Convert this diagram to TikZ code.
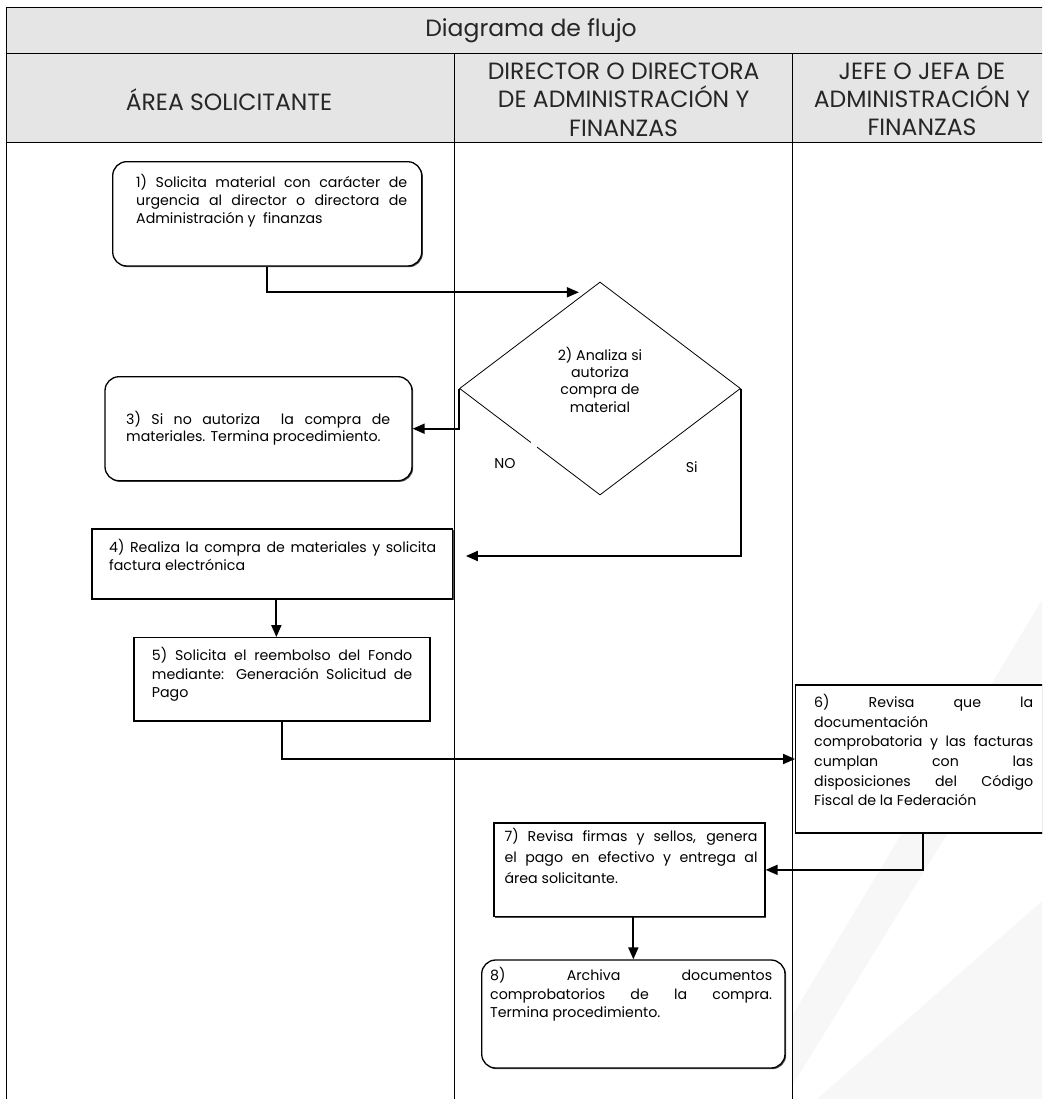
\documentclass[tikz,border=0pt]{standalone}
\usepackage{fontspec}
\setmainfont{Poppins}
\usetikzlibrary{shapes.geometric,shadows,calc,arrows.meta}

% a line stretched to the full measure, as in justified text
\newcommand\jl[1]{\makebox[\linewidth][s]{#1}\par}

\tikzset{
  rule/.style={line width=1.1pt},
  head/.style={inner sep=0pt, text=black!85, font=\fontsize{23.5}{28.3}\selectfont},
  stepbox/.style={draw, line width=1.3pt, fill=white, inner sep=0pt,
    drop shadow={shadow xshift=1.2pt, shadow yshift=-1.2pt, fill=black!70, opacity=1}},
  roundbox/.style={stepbox, rounded corners=14pt},
  decision/.style={draw, diamond, line width=0.8pt, inner sep=0pt},
  txt/.style={inner sep=0pt, anchor=base west},
  conn/.style={line width=1.8pt, -{Triangle[length=12pt,width=10pt]}},
  watermark/.style={fill=black!3},
}

\begin{document}
\begin{tikzpicture}[x=1pt, y=-1pt]
\useasboundingbox (0,0) rectangle (1042,1099);
\clip (0,0) rectangle (1042,1099);

% faint background stripes
\fill[watermark] (792,1016) -- (1042,600) -- (1042,680) -- (792,1086) -- cycle;
\fill[watermark] (817,1099) -- (1042,901) -- (1042,1099) -- cycle;

% swimlane table
\fill[black!10] (6.7,7.3) rectangle (1052,142.3);
\draw[rule] (6.7,1120) -- (6.7,7.3) -- (1052,7.3) -- (1052,1120);
\draw[rule] (6.7,53.3) -- (1052,53.3);
\draw[rule] (6.7,142.3) -- (1052,142.3);
\draw[rule] (454.7,53.3) -- (454.7,1120);
\draw[rule] (792.5,53.3) -- (792.5,1120);

\node[head] (title) at (531,30.3) {Diagrama de flujo};
\node[head, align=center] (h1) at (229,99.5) {ÁREA SOLICITANTE};
\node[head, align=center] (h2) at (623.6,99.5) {DIRECTOR O DIRECTORA\\DE ADMINISTRACIÓN Y\\FINANZAS};
\node[head, align=center] (h3) at (922,99.5) {JEFE O JEFA DE\\ADMINISTRACIÓN Y\\FINANZAS};

% process boxes
\node[roundbox, minimum width=309, minimum height=104.3] (b1) at (267.2,213.85) {};
\node[decision, minimum width=281, minimum height=213] (dm) at (600,388.5) {};
\node[roundbox, minimum width=307, minimum height=104] (b3) at (258.5,428.7) {};
\node[stepbox, minimum width=360.7, minimum height=70] (b4) at (272.35,564) {};
\node[stepbox, minimum width=296, minimum height=83.3] (b5) at (282,679.35) {};
\node[stepbox, minimum width=255.3, minimum height=148] (b6) at (923.35,759) {};
\node[stepbox, minimum width=271, minimum height=93.7] (b7) at (629.5,869.85) {};
\node[roundbox, minimum width=303.3, minimum height=108] (b8) at (633.35,1014) {};

% break in the decision outline
\fill[white] (530.5,441.5) rectangle (537,448.5);

% box texts
\node[txt, font=\fontsize{14.2}{18.3}\selectfont] (t1) at (136,187.3)
  {\parbox[t]{271pt}{\jl{1) Solicita material con carácter de}\jl{urgencia al director o directora de}Administración y~ finanzas}};
\node[inner sep=0pt, anchor=base, font=\fontsize{14.2}{17.4}\selectfont] (t2) at (600,360)
  {\parbox[t]{140pt}{\centering 2) Analiza si\\autoriza\\compra de\\material}};
\node[txt, font=\fontsize{14.2}{17.5}\selectfont] (t3) at (126,424)
  {\parbox[t]{264pt}{\jl{3) Si no autoriza~ la compra de}materiales. Termina procedimiento.}};
\node[txt, font=\fontsize{14.2}{18.4}\selectfont] (t4) at (109,552.3)
  {\parbox[t]{327pt}{\jl{4) Realiza la compra de materiales y solicita}factura electrónica}};
\node[txt, font=\fontsize{14.2}{18.3}\selectfont] (t5) at (151.7,660.7)
  {\parbox[t]{260.3pt}{\jl{5) Solicita el reembolso del Fondo}\jl{mediante: Generación Solicitud de}Pago}};
\node[txt, font=\fontsize{14.2}{19.7}\selectfont] (t6) at (814,707.3)
  {\parbox[t]{219pt}{\jl{6) Revisa que la}documentación\par\jl{comprobatoria y las facturas}\jl{cumplan con las}\jl{disposiciones del Código}Fiscal de la Federación}};
\node[txt, font=\fontsize{14.2}{21}\selectfont] (t7) at (504.3,841.3)
  {\parbox[t]{253pt}{\jl{7) Revisa firmas y sellos, genera}\jl{el pago en efectivo y entrega al}área solicitante.}};
\node[txt, font=\fontsize{14.2}{18.3}\selectfont] (t8) at (490,980.7)
  {\parbox[t]{282pt}{\jl{8) Archiva documentos}\jl{comprobatorios de la compra.}Termina procedimiento.}};

\node[inner sep=0pt, font=\fontsize{14.2}{16}\selectfont] (no) at (505,463.3) {NO};
\node[inner sep=0pt, font=\fontsize{14.2}{16}\selectfont] (si) at (691.7,466.7) {Si};

% connectors
\draw[conn, shorten >=7pt] (b1.south) |- ($(dm.north)!0.1!(dm.west)$);
\draw[conn] (dm.west) |- (b3.east);
\draw[conn] (dm.east) |- ([xshift=12.5pt, yshift=8pt]b4.east);
\draw[conn] ([xshift=4pt]b4.south) -- ([xshift=4pt]b4.south |- b5.north);
\draw[conn] (b5.south) |- (b6.west);
\draw[conn] (b6.south) |- (b7.east);
\draw[conn] (b8.north |- b7.south) -- (b8.north);
\end{tikzpicture}
\end{document}
